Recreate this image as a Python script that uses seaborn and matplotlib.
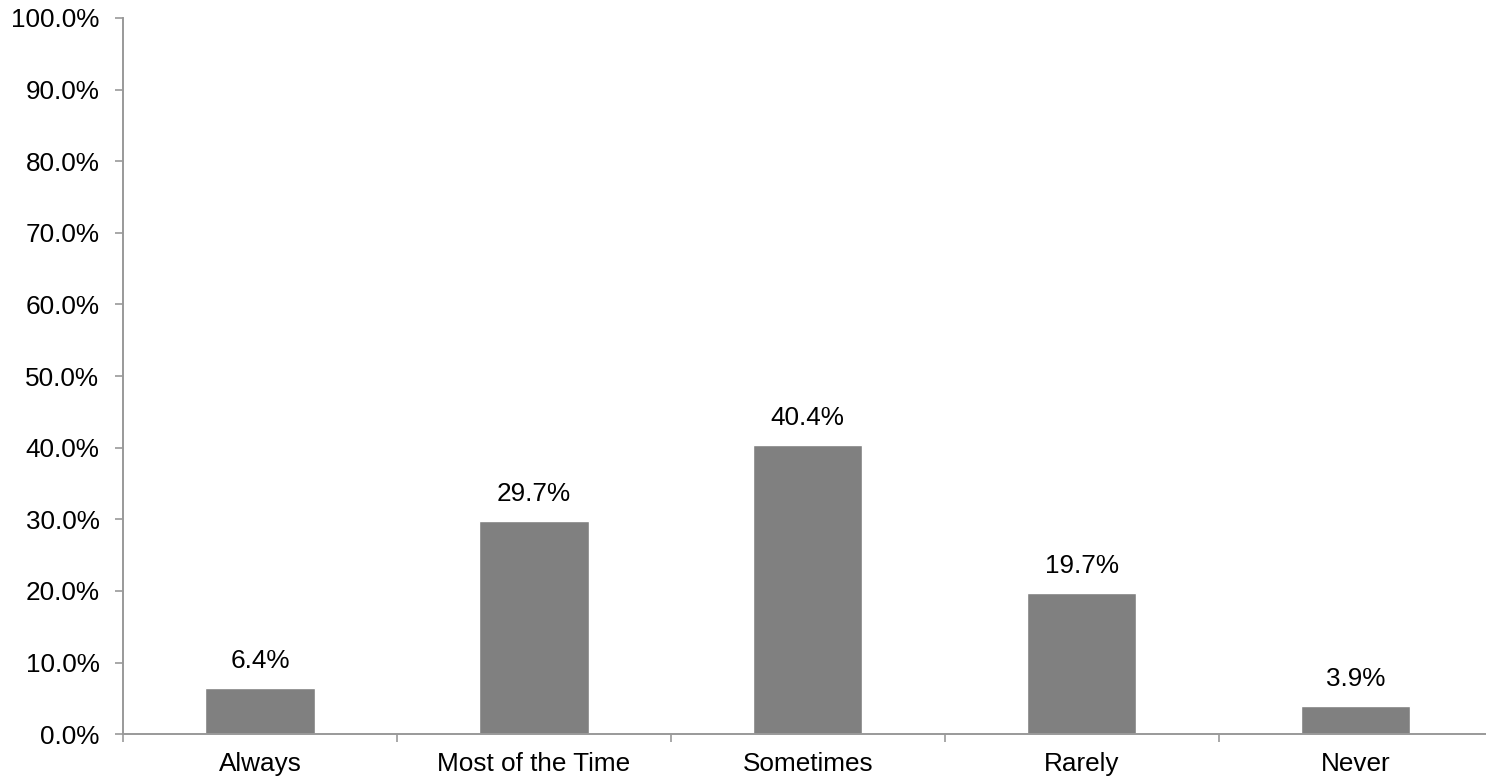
import numpy as np
import pandas as pd
import matplotlib
matplotlib.use("Agg")
import matplotlib.pyplot as plt
import seaborn as sns
from matplotlib.ticker import FixedLocator, PercentFormatter

# ---- data ----
categories = ["Always", "Most of the Time", "Sometimes", "Rarely", "Never"]
values = [6.4, 29.7, 40.4, 19.7, 3.9]
y_ticks = [0, 10, 20, 30, 40, 50, 60, 70, 80, 90, 100]

df = pd.DataFrame({"category": categories, "pct": values})

sns.set_style("white")
plt.rcParams['font.family'] = ['Liberation Sans', 'DejaVu Sans']

fig = plt.figure(figsize=(14.86, 7.81), dpi=100)
ax = fig.add_axes([0.0828, 0.060, 0.9215, 0.917])

sns.barplot(data=df, x="category", y="pct", color="#808080", saturation=1,
            width=0.4, ax=ax)

for i, v in enumerate(values):
    ax.annotate(f"{v:.1f}%", (i, v), xytext=(0, 11), textcoords="offset points",
                ha="center", va="bottom", fontsize=18.8, color="black")

ax.set_ylim(0, 100)
ax.set_xlim(-0.5, len(categories) - 0.5)
ax.yaxis.set_major_locator(FixedLocator(y_ticks))
ax.yaxis.set_major_formatter(PercentFormatter(decimals=1))
ax.set_xlabel("")
ax.set_ylabel("")

# category ticks sit between the bars
ax.set_xticks(np.arange(len(categories)))
ax.set_xticklabels(categories)
ax.xaxis.set_minor_locator(FixedLocator(np.arange(len(categories) + 1) - 0.5))
ax.tick_params(axis="x", which="major", length=0, pad=13, labelsize=18.8,
               labelcolor="black")
ax.tick_params(axis="x", which="minor", length=6, width=1.2, color="#999999",
               direction="out", bottom=True)
ax.tick_params(axis="y", length=6, width=1.2, color="#999999", direction="out",
               left=True, labelsize=18.8, labelcolor="black", pad=11)

sns.despine(ax=ax, top=True, right=True)
for s in ("left", "bottom"):
    ax.spines[s].set_color("#999999")
    ax.spines[s].set_linewidth(1.4)

fig.savefig("out.png", dpi=100)
